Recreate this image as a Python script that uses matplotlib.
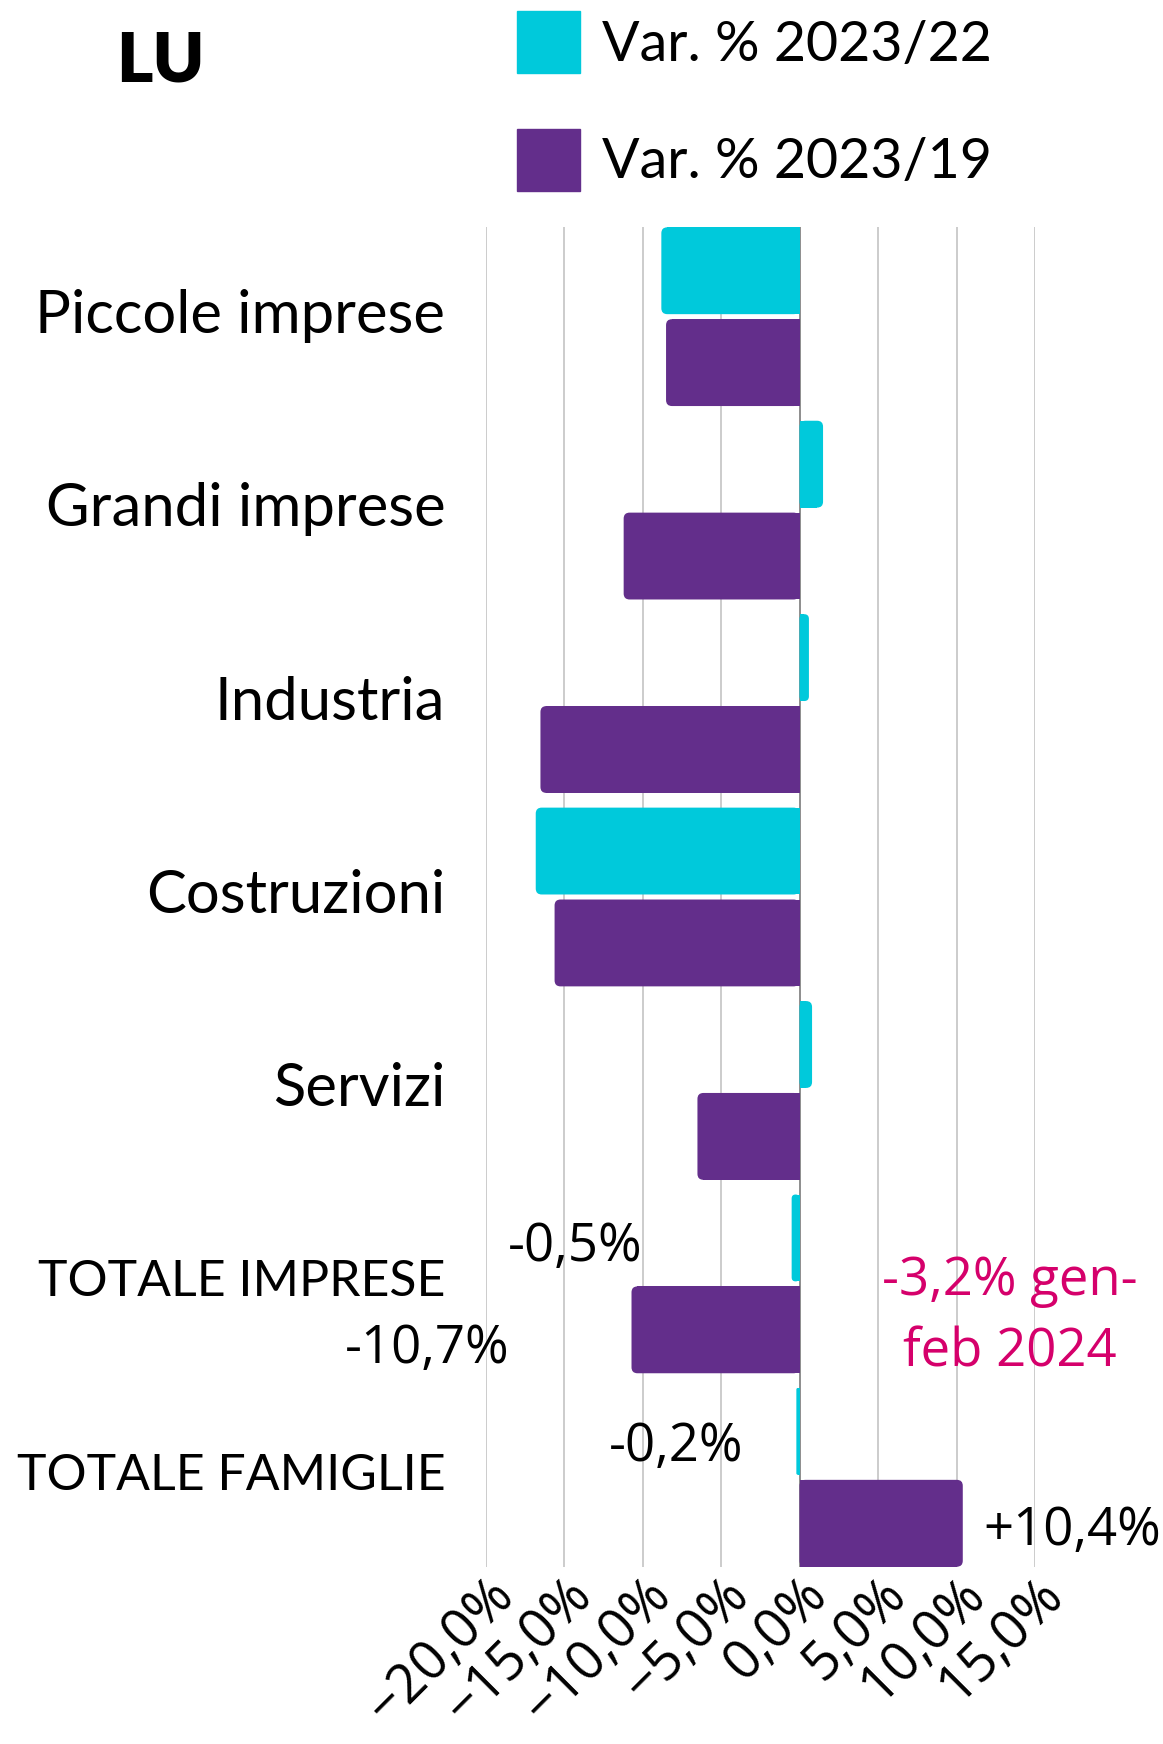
import numpy as np
import matplotlib
matplotlib.use("Agg")
import matplotlib.pyplot as plt
import matplotlib.transforms as mtransforms
from matplotlib.patches import Patch, FancyBboxPatch

# data
categories = ["Piccole imprese", "Grandi imprese", "Industria", "Costruzioni",
              "Servizi", "TOTALE IMPRESE", "TOTALE FAMIGLIE"]
var_23_22 = [-8.8, 1.5, 0.6, -16.8, 0.8, -0.5, -0.2]
var_23_19 = [-8.5, -11.2, -16.5, -15.6, -6.5, -10.7, 10.4]
series_names = ["Var. % 2023/22", "Var. % 2023/19"]
xticks = [-20, -15, -10, -5, 0, 5, 10, 15]
note_text = "-3,2% gen-\nfeb 2024"

cyan = "#00C9DB"
purple = "#632E8B"
pink = "#D5006B"
label_font = ["Lato", "DejaVu Sans"]
num_font = ["Open Sans", "DejaVu Sans"]


def fmt(v, sign=False):
    s = f"{abs(v):.1f}".replace(".", ",") + "%"
    if v < 0:
        return "-" + s
    return ("+" + s) if sign else s


def round_ends(ax, bars, color, r0=0.38, aspect=0.081):
    # rounded outer end, square end at zero
    for b in bars:
        x, yb, w, hh = b.get_x(), b.get_y(), b.get_width(), b.get_height()
        r = min(r0, abs(w) / 2)
        left = min(x, x + w)
        fb = FancyBboxPatch((left, yb), abs(w), hh,
                            boxstyle=f"round,pad=0,rounding_size={r}",
                            mutation_aspect=aspect, color=color, lw=0, zorder=3)
        ax.add_patch(fb)
        b.set_width(w - np.sign(w) * r)


fig = plt.figure(figsize=(11.63, 17.44), dpi=100)
ax = fig.add_axes([485.5 / 1163, 1 - 1566.7 / 1744, 549.5 / 1163, 1339.4 / 1744])

y = np.arange(len(categories))
h = 0.449
off = 0.2375
b1 = ax.barh(y - off, var_23_22, height=h, color=cyan, zorder=3, label=series_names[0])
b2 = ax.barh(y + off, var_23_19, height=h, color=purple, zorder=3, label=series_names[1])
round_ends(ax, b1, cyan)
round_ends(ax, b2, purple)

ax.set_xlim(-20, 15)
ax.set_ylim(len(categories) - 1 + 0.462, -0.462)
ax.axvline(0, color="#8a8a8a", lw=1.3, zorder=2)

ax.set_xticks(xticks)
ax.set_xticklabels([("\u2212" if t < 0 else "") + f"{abs(t)},0%" for t in xticks],
                   fontsize=39, family=num_font, rotation=45, ha="right", va="top",
                   rotation_mode="anchor")
shift = mtransforms.ScaledTranslation(0.26, -0.68, fig.dpi_scale_trans)
for lbl in ax.get_xticklabels():
    lbl.set_transform(lbl.get_transform() + shift)
ax.tick_params(axis="x", length=0, pad=0)
ax.grid(axis="x", color="#c8c8c8", lw=1.3, zorder=0)

ax.set_yticks(y)
ax.set_yticklabels(categories, family=label_font)
ax.tick_params(axis="y", length=0, pad=29)
yshift = mtransforms.ScaledTranslation(0, 0.06, fig.dpi_scale_trans)
for lbl in ax.get_yticklabels():
    lbl.set_fontsize(36 if lbl.get_text().isupper() else 43)
    lbl.set_transform(lbl.get_transform() + yshift)
for s in ax.spines.values():
    s.set_visible(False)

# value labels for the totals
ax.text(-10.0, 5 - off + 0.05, fmt(var_23_22[5]), ha="right", va="center", fontsize=38, family=num_font)
ax.text(-18.5, 5 + off + 0.1, fmt(var_23_19[5]), ha="right", va="center", fontsize=38, family=num_font)
ax.text(-3.6, 6 - off + 0.08, fmt(var_23_22[6]), ha="right", va="center", fontsize=38, family=num_font)
ax.text(11.7, 6 + off + 0.04, fmt(var_23_19[6], sign=True), ha="left", va="center",
        fontsize=38, family=num_font, clip_on=False)
ax.text(13.4, 5.17, note_text, ha="center", va="center", fontsize=38, family=num_font,
        color=pink, linespacing=1.45, clip_on=False)

fig.text(116 / 1163, 1 - 62 / 1744, "LU", fontsize=50, family=label_font, weight="heavy",
         ha="left", va="center")

handles = [Patch(color=cyan), Patch(color=purple)]
fig.legend(handles, series_names, loc="upper left", bbox_to_anchor=(517 / 1163, 1 - 11 / 1744),
           frameon=False, prop={"family": label_font, "size": 40},
           handlelength=1.13, handleheight=1.34, handletextpad=0.4, labelspacing=1.0,
           borderpad=0, borderaxespad=0)

fig.savefig("out.png", dpi=100, facecolor="white")
